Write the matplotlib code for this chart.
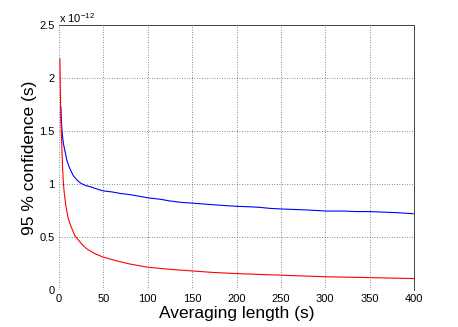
import matplotlib
matplotlib.use('Agg')
import matplotlib.pyplot as plt

# Values (units of 1e-12 s)
red_x = [1, 2, 3, 4, 5, 6, 8, 10, 13, 18, 25, 31, 40, 50, 65, 80, 100,
         125, 150, 175, 200, 250, 300, 350, 400]
red_y = [2.18, 1.62, 1.40, 1.16, 1.00, 0.91, 0.78, 0.69, 0.61, 0.51, 0.44,
         0.39, 0.345, 0.31, 0.275, 0.245, 0.215, 0.195, 0.18, 0.165, 0.155,
         0.14, 0.125, 0.117, 0.108]

blue_x = [2, 3, 4, 5, 7, 9, 12, 16, 20, 24, 30, 35, 42, 50, 60, 70, 80, 90,
          100, 115, 125, 140, 150, 165, 181, 200, 215, 226, 238, 249, 265,
          280, 301, 320, 335, 350, 365, 380, 399]
blue_y = [1.73, 1.55, 1.45, 1.38, 1.30, 1.22, 1.15, 1.08, 1.04, 1.01, 0.985,
          0.975, 0.955, 0.935, 0.925, 0.91, 0.90, 0.885, 0.87, 0.855, 0.84,
          0.825, 0.82, 0.81, 0.80, 0.79, 0.785, 0.78, 0.77, 0.765, 0.76,
          0.755, 0.745, 0.745, 0.74, 0.74, 0.735, 0.73, 0.72]

xticks = [0, 50, 100, 150, 200, 250, 300, 350, 400]
yticks = [0, 0.5, 1, 1.5, 2, 2.5]
ytick_labels = ['0', '0.5', '1', '1.5', '2', '2.5']

plt.rcParams['font.family'] = ['Liberation Sans', 'DejaVu Sans']
plt.rcParams['mathtext.fontset'] = 'custom'
plt.rcParams['mathtext.rm'] = 'Liberation Sans'

fig = plt.figure(figsize=(4.58, 3.27), dpi=100)
ax = fig.add_axes([0.1288, 0.1131, 0.7752, 0.8104])

ax.plot(blue_x, blue_y, c='#0000ff', linewidth=0.8, zorder=3)
ax.plot(red_x, red_y, c='#ff0000', linewidth=0.8, zorder=3)

ax.set_xlim(0, 400)
ax.set_ylim(0, 2.5)
ax.set_xticks(xticks)
ax.set_yticks(yticks)
ax.set_yticklabels(ytick_labels)
ax.tick_params(direction='in', length=0, labelsize=8, pad=3)
ax.grid(True, c='#666666', linewidth=0.6, linestyle=(0, (1, 2)))
# only top and right box lines show in the original
ax.spines['left'].set_visible(False)
ax.spines['bottom'].set_visible(False)
for s in ['top', 'right']:
    ax.spines[s].set_linewidth(0.7)
    ax.spines[s].set_color('#444444')

ax.text(0.0, 1.0, r'x 10$^{\mathregular{-12}}$', transform=ax.transAxes,
        fontsize=8, ha='left', va='bottom')

ax.set_xlabel('Averaging length (s)', fontsize=12.5, labelpad=1)
ax.set_ylabel('95 % confidence (s)', fontsize=12.5, labelpad=2)

fig.savefig('out.png', dpi=100)
